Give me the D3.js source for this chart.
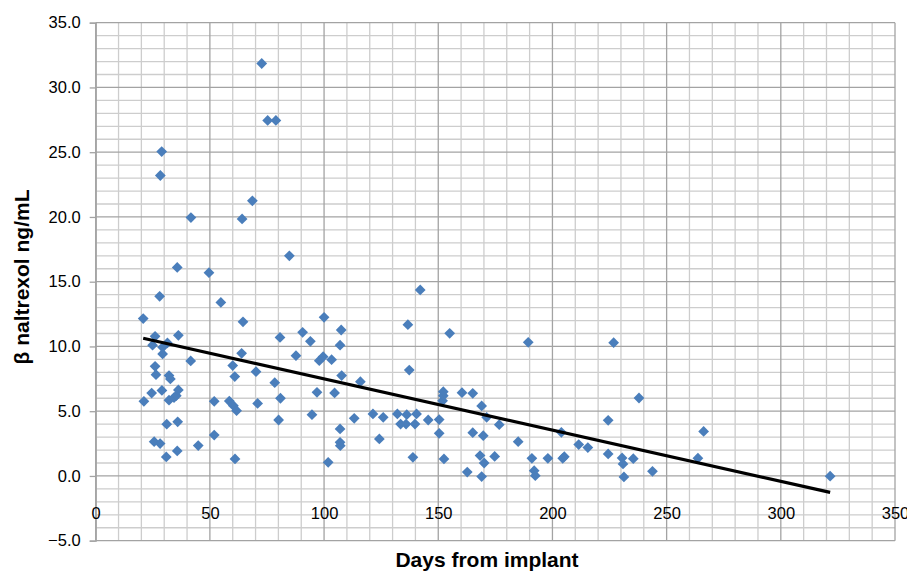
<!DOCTYPE html>
<html>
<head>
<meta charset="utf-8">
<script src="https://cdn.jsdelivr.net/npm/d3@7"></script>
<style>
  body { margin: 0; background: #fff; }
  svg text { font-family: "Liberation Sans", Arial, sans-serif; fill: #000; }
</style>
</head>
<body>
<div id="graph"></div>
<script>
var days = [
  20.8, 21.1, 24.5, 24.9, 25.6, 26.0, 26.0, 26.4, 28.0, 28.3,
  28.9, 28.2, 29.0, 29.3, 29.3, 30.9, 31.1, 31.4, 32.1, 32.7,
  32.1, 34.3, 35.3, 36.2, 35.9, 35.7, 35.7, 36.2, 41.6, 41.7,
  44.9, 49.6, 51.9, 51.9, 54.8, 58.5, 60.0, 60.3, 60.9, 61.0,
  61.7, 63.9, 64.1, 64.5, 68.6, 70.2, 70.9, 72.7, 75.3, 78.9,
  78.4, 80.1, 80.7, 80.9, 84.8, 87.7, 90.6, 94.0, 94.7, 96.9,
  97.9, 99.6, 100.0, 101.8, 103.3, 104.6, 107.0, 107.5, 107.7, 107.0,
  107.0, 107.1, 113.2, 115.9, 121.4, 124.2, 125.9, 132.1, 133.5, 135.9,
  136.2, 136.7, 137.3, 138.9, 139.8, 140.5, 142.1, 145.6, 150.4, 150.4,
  151.9, 152.2, 152.2, 152.5, 155.0, 160.4, 162.7, 165.1, 165.1, 168.3,
  169.0, 169.0, 169.7, 170.1, 171.2, 174.7, 176.7, 185.0, 189.4, 191.0,
  192.0, 192.5, 198.0, 203.9, 204.5, 205.2, 211.5, 215.5, 224.4, 224.4,
  226.8, 230.5, 230.9, 231.3, 235.4, 237.9, 243.8, 263.7, 266.2, 321.6
];
var level = [
  12.15, 5.76, 6.4, 10.1, 2.65, 10.78, 8.47, 7.82, 13.87, 23.2,
  25.05, 2.5, 6.6, 9.93, 9.42, 1.47, 4.0, 10.27, 7.75, 7.49,
  5.85, 6.05, 6.2, 6.64, 4.18, 1.93, 16.1, 10.86, 8.88, 19.95,
  2.35, 15.7, 5.76, 3.16, 13.4, 5.78, 8.52, 5.43, 7.67, 1.31,
  5.04, 9.47, 19.85, 11.9, 21.25, 8.05, 5.6, 31.85, 27.45, 27.45,
  7.2, 4.32, 10.7, 6.0, 17.0, 9.29, 11.09, 10.4, 4.73, 6.46,
  8.9, 9.21, 12.25, 1.05, 8.98, 6.41, 10.1, 11.27, 7.75, 3.63,
  2.6, 2.34, 4.45, 7.28, 4.79, 2.86, 4.53, 4.79, 4.01, 4.01,
  4.73, 11.68, 8.18, 1.44, 4.01, 4.79, 14.36, 4.32, 4.35, 3.29,
  5.8, 6.2, 6.51, 1.31, 11.01, 6.43, 0.3, 6.38, 3.34, 1.57,
  5.41, -0.05, 3.11, 1.0, 4.53, 1.51, 3.96, 2.65, 10.32, 1.36,
  0.41, 0.02, 1.36, 3.37, 1.36, 1.49, 2.42, 2.19, 4.3, 1.70,
  10.29, 1.39, 0.93, -0.08, 1.33, 6.02, 0.36, 1.37, 3.44, -0.02
];

// linear trend line drawn over the data range
var trendDays = [20.8, 321.6];
var trendLevel = [10.63, -1.27];

var xTicks = [0, 50, 100, 150, 200, 250, 300, 350];
var yTicks = [-5, 0, 5, 10, 15, 20, 25, 30, 35];

var frameWidth = 907,
  frameHeight = 572;
var margin = { top: 22.7, right: 12, bottom: 31.3, left: 95.7 },
  width = frameWidth - margin.left - margin.right,
  height = frameHeight - margin.top - margin.bottom;

var svg = d3
  .select("#graph")
  .append("svg")
  .attr("width", frameWidth)
  .attr("height", frameHeight);

var g = svg
  .append("g")
  .attr("transform", "translate(" + margin.left + "," + margin.top + ")");

var xScale = d3.scaleLinear().domain([0, 350]).range([0, width]);
var yScale = d3.scaleLinear().domain([-5, 35]).range([height, 0]);

// minor grid: every 10 days / every 1 ng/mL
var xMinor = d3.range(0, 351, 10);
var yMinor = d3.range(-5, 36, 1);

g.append("g")
  .selectAll("line")
  .data(xMinor.filter(function (d) { return d % 50 != 0; }))
  .enter()
  .append("line")
  .attr("x1", function (d) { return xScale(d); })
  .attr("x2", function (d) { return xScale(d); })
  .attr("y1", 0)
  .attr("y2", height)
  .attr("stroke", "#cdcdcd")
  .attr("stroke-width", 1.3);

g.append("g")
  .selectAll("line")
  .data(yMinor.filter(function (d) { return d % 5 != 0; }))
  .enter()
  .append("line")
  .attr("x1", 0)
  .attr("x2", width)
  .attr("y1", function (d) { return yScale(d); })
  .attr("y2", function (d) { return yScale(d); })
  .attr("stroke", "#cdcdcd")
  .attr("stroke-width", 1.3);

// major grid
g.append("g")
  .selectAll("line")
  .data(xTicks)
  .enter()
  .append("line")
  .attr("x1", function (d) { return xScale(d); })
  .attr("x2", function (d) { return xScale(d); })
  .attr("y1", 0)
  .attr("y2", height)
  .attr("stroke", "#a3a3a3")
  .attr("stroke-width", 1.3);

g.append("g")
  .selectAll("line")
  .data(yTicks)
  .enter()
  .append("line")
  .attr("x1", 0)
  .attr("x2", width)
  .attr("y1", function (d) { return yScale(d); })
  .attr("y2", function (d) { return yScale(d); })
  .attr("stroke", "#a3a3a3")
  .attr("stroke-width", 1.3);

// y axis with outside ticks
var yAxis = g
  .append("g")
  .call(
    d3.axisLeft(yScale)
      .tickValues(yTicks)
      .tickSize(6)
      .tickPadding(9)
      .tickFormat(d3.format(".1f"))
  );
yAxis.select(".domain").attr("stroke", "#a3a3a3").attr("stroke-width", 1.3);
yAxis.selectAll(".tick line").attr("stroke", "#a3a3a3").attr("stroke-width", 1.3);
yAxis.selectAll("text").style("font-size", "16.5px").attr("fill", "#000");

// x labels sit low, near the bottom of the plot
var xAxis = g
  .append("g")
  .attr("transform", "translate(0," + (yScale(-3) - 8) + ")")
  .call(d3.axisBottom(xScale).tickValues(xTicks).tickSize(0).tickPadding(0));
xAxis.select(".domain").remove();
xAxis.selectAll("text").style("font-size", "16.5px").attr("fill", "#000");

// points as diamonds
var diamond = d3.symbol().type(d3.symbolSquare).size(58);
g.append("g")
  .selectAll("path")
  .data(days)
  .enter()
  .append("path")
  .attr("d", diamond)
  .attr("fill", "#4a7ebb")
  .attr("transform", function (d, i) {
    return "translate(" + xScale(d) + "," + yScale(level[i]) + ") rotate(45)";
  });

// trend line
var line = d3
  .line()
  .x(function (d) { return xScale(d); })
  .y(function (d, i) { return yScale(trendLevel[i]); });
g.append("path")
  .datum(trendDays)
  .attr("d", line)
  .attr("fill", "none")
  .attr("stroke", "#000")
  .attr("stroke-width", 3.2);

// axis titles
svg
  .append("text")
  .attr("x", 487)
  .attr("y", 567)
  .attr("text-anchor", "middle")
  .style("font-size", "21px")
  .style("font-weight", "bold")
  .text("Days from implant");

svg
  .append("text")
  .attr("transform", "translate(29,277) rotate(-90)")
  .attr("text-anchor", "middle")
  .style("font-size", "21px")
  .style("font-weight", "bold")
  .text("β naltrexol ng/mL");
</script>
</body>
</html>
